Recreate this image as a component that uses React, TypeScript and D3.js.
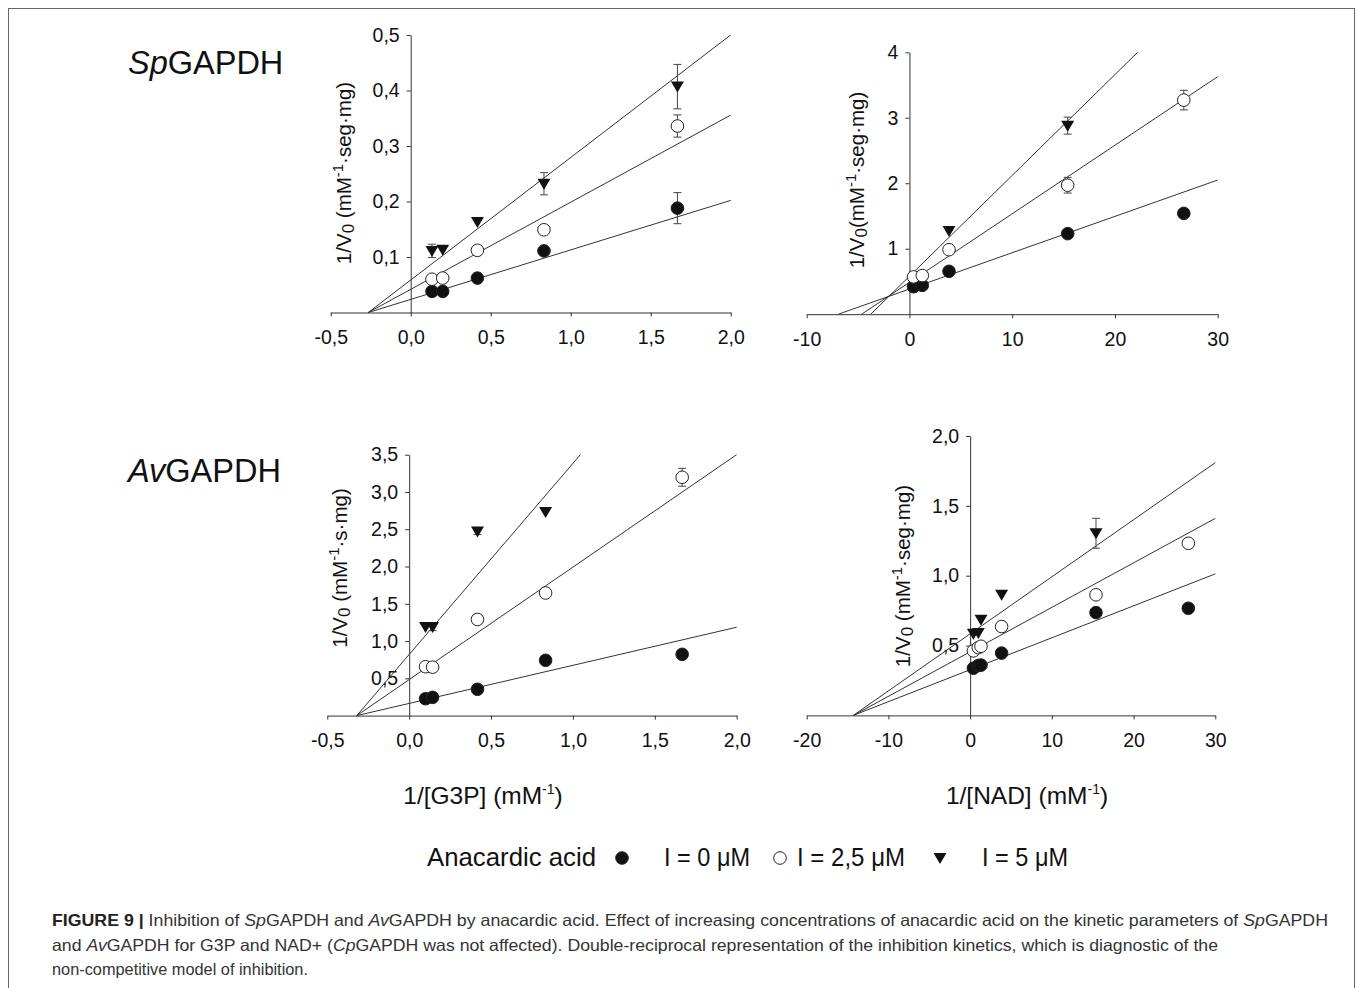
import { useEffect, useRef } from "react";
import * as d3 from "d3";

// ---- data ----
// SpGAPDH, 1/[G3P]
const spG3Px = [0.133, 0.2, 0.417, 0.833, 1.667];
const spG3P_0 = [0.038, 0.038, 0.062, 0.111, 0.188];
const spG3P_0err = [0, 0, 0, 0, 0.028];
const spG3P_25 = [0.06, 0.062, 0.112, 0.149, 0.336];
const spG3P_25err = [0, 0, 0, 0, 0.02];
const spG3P_5 = [0.111, 0.113, 0.163, 0.232, 0.407];
const spG3P_5err = [0.012, 0, 0, 0.02, 0.04];
const spG3PSlopes = [0.0892, 0.157, 0.2208];
const spG3PIntercepts = [0.0236, 0.0417, 0.0585];

// SpGAPDH, 1/[NAD]
const spNADx = [0.4, 1.25, 3.85, 15.4, 26.7];
const spNAD_0 = [0.42, 0.44, 0.655, 1.23, 1.54];
const spNAD_0err = [0, 0, 0, 0, 0];
const spNAD_25 = [0.57, 0.59, 0.985, 1.97, 3.27];
const spNAD_25err = [0, 0, 0, 0.12, 0.15];
const spNAD5x = [3.85, 15.4];
const spNAD_5 = [1.27, 2.88];
const spNAD_5err = [0, 0.13];
const spNADSlopes = [0.0555, 0.1047, 0.154];
const spNADIntercepts = [0.384, 0.487, 0.58];

// AvGAPDH, 1/[G3P]
const avG3Px = [0.1, 0.143, 0.417, 0.833, 1.667];
const avG3P_0 = [0.227, 0.245, 0.353, 0.742, 0.822];
const avG3P_0err = [0, 0, 0, 0, 0];
const avG3P_25 = [0.656, 0.65, 1.29, 1.645, 3.197];
const avG3P_25err = [0, 0, 0, 0, 0.12];
const avG3P5x = [0.1, 0.143, 0.417, 0.833];
const avG3P_5 = [1.19, 1.19, 2.47, 2.73];
const avG3P_5err = [0, 0.05, 0.04, 0];
const avG3PSlopes = [0.511, 1.509, 2.564];
const avG3PIntercepts = [0.1635, 0.483, 0.82];

// AvGAPDH, 1/[NAD]
const avNADx = [0.4, 1.0, 1.33, 3.85, 15.4, 26.7];
const avNAD_0 = [0.338, 0.357, 0.36, 0.446, 0.736, 0.767];
const avNAD_0err = [0, 0, 0, 0, 0, 0];
const avNAD_25 = [0.462, 0.485, 0.495, 0.636, 0.863, 1.232];
const avNAD_25err = [0, 0, 0, 0, 0.03, 0];
const avNAD5x = [0.4, 1.0, 1.33, 3.85, 15.4];
const avNAD_5 = [0.584, 0.59, 0.684, 0.863, 1.304];
const avNAD_5err = [0, 0, 0, 0, 0.107];
const avNADSlopes = [0.02287, 0.03185, 0.04084];
const avNADIntercepts = [0.327, 0.455, 0.584];

const legendLabels = ["I = 0 \u03bcM", "I = 2,5 \u03bcM", "I = 5 \u03bcM"];
const kinds = ["closed", "open", "tri"];

const FONT = "'Liberation Sans', Arial, Helvetica, sans-serif";
const comma1 = (d) => d.toFixed(1).replace(".", ",");
const intFmt = (d) => String(d);

const panels = [
  {
    xDomain: [-0.5, 2.0], xRange: [330.7, 730.7], yDomain: [0, 0.5], yRange: [312.5, 35],
    xTicks: [-0.5, 0, 0.5, 1.0, 1.5, 2.0], yTicks: [0.1, 0.2, 0.3, 0.4, 0.5],
    xFmt: comma1, yFmt: comma1,
    series: [
      { x: spG3Px, y: spG3P_0, err: spG3P_0err },
      { x: spG3Px, y: spG3P_25, err: spG3P_25err },
      { x: spG3Px, y: spG3P_5, err: spG3P_5err },
    ],
    slopes: spG3PSlopes, intercepts: spG3PIntercepts,
    yLabel: { x: 346, y: 173, unit: "\u00b7seg\u00b7mg)", gap: " (" },
  },
  {
    xDomain: [-10, 30], xRange: [806.7, 1217.7], yDomain: [0, 4], yRange: [314.2, 52.3],
    xTicks: [-10, 0, 10, 20, 30], yTicks: [1, 2, 3, 4],
    xFmt: intFmt, yFmt: intFmt,
    series: [
      { x: spNADx, y: spNAD_0, err: spNAD_0err },
      { x: spNADx, y: spNAD_25, err: spNAD_25err },
      { x: spNAD5x, y: spNAD_5, err: spNAD_5err },
    ],
    slopes: spNADSlopes, intercepts: spNADIntercepts,
    yLabel: { x: 859, y: 180, unit: "\u00b7seg\u00b7mg)", gap: "(" },
  },
  {
    xDomain: [-0.5, 2.0], xRange: [327.3, 736.7], yDomain: [0, 3.5], yRange: [715.6, 454.7],
    xTicks: [-0.5, 0, 0.5, 1.0, 1.5, 2.0], yTicks: [0.5, 1, 1.5, 2, 2.5, 3, 3.5],
    xFmt: comma1, yFmt: comma1,
    series: [
      { x: avG3Px, y: avG3P_0, err: avG3P_0err },
      { x: avG3Px, y: avG3P_25, err: avG3P_25err },
      { x: avG3P5x, y: avG3P_5, err: avG3P_5err },
    ],
    slopes: avG3PSlopes, intercepts: avG3PIntercepts,
    yLabel: { x: 342, y: 568, unit: "\u00b7s\u00b7mg)", gap: " (" },
  },
  {
    xDomain: [-20, 30], xRange: [806.7, 1215.3], yDomain: [0, 2.0], yRange: [715.4, 436],
    xTicks: [-20, -10, 0, 10, 20, 30], yTicks: [0.5, 1.0, 1.5, 2.0],
    xFmt: intFmt, yFmt: comma1,
    series: [
      { x: avNADx, y: avNAD_0, err: avNAD_0err },
      { x: avNADx, y: avNAD_25, err: avNAD_25err },
      { x: avNAD5x, y: avNAD_5, err: avNAD_5err },
    ],
    slopes: avNADSlopes, intercepts: avNADIntercepts,
    yLabel: { x: 905, y: 576, unit: "\u00b7seg\u00b7mg)", gap: " (" },
  },
];

const triPath = "M-6.5,-5L6.5,-5L0,6Z";

function drawMarker(sel, kind) {
  if (kind === "tri") {
    sel.append("path").attr("d", triPath).attr("fill", "#111");
  } else {
    sel.append("circle").attr("r", 6.3)
      .attr("fill", kind === "closed" ? "#111" : "#fff")
      .attr("stroke", "#222").attr("stroke-width", 1);
  }
}

export default function App() {
  const ref = useRef(null);

  useEffect(() => {
    const svg = d3.select(ref.current);
    svg.selectAll("*").remove();

    // frame
    svg.append("rect").attr("x", 8.5).attr("y", 8.5).attr("width", 1346).attr("height", 1000)
      .attr("fill", "none").attr("stroke", "#666").attr("stroke-width", 1);

    panels.forEach((p) => {
      const x = d3.scaleLinear().domain(p.xDomain).range(p.xRange);
      const y = d3.scaleLinear().domain(p.yDomain).range(p.yRange);
      const g = svg.append("g");

      const xa = g.append("g").attr("transform", `translate(0,${y(0)})`)
        .call(d3.axisBottom(x).tickValues(p.xTicks).tickFormat(p.xFmt).tickSize(4).tickSizeOuter(0).tickPadding(14));
      const ya = g.append("g").attr("transform", `translate(${x(0)},0)`)
        .call(d3.axisLeft(y).tickValues(p.yTicks).tickFormat(p.yFmt).tickSize(4).tickSizeOuter(0).tickPadding(7));
      [xa, ya].forEach((a) => {
        a.attr("font-family", FONT).attr("font-size", 19.5);
        a.selectAll("path,line").attr("stroke", "#333");
        a.selectAll("text").attr("fill", "#111");
      });

      // regression lines
      p.slopes.forEach((m, i) => {
        const b = p.intercepts[i];
        const x0 = Math.max(-b / m, p.xDomain[0]);
        const x1 = Math.min(p.xDomain[1], (p.yDomain[1] - b) / m);
        g.append("line")
          .attr("x1", x(x0)).attr("y1", y(m * x0 + b))
          .attr("x2", x(x1)).attr("y2", y(m * x1 + b))
          .attr("stroke", "#333").attr("stroke-width", 1);
      });

      // error bars then markers
      p.series.forEach((s, si) => {
        s.x.forEach((xv, i) => {
          const e = s.err[i];
          if (!e) return;
          const cx = x(xv);
          const eg = g.append("g").attr("stroke", "#444").attr("stroke-width", 1);
          eg.append("line").attr("x1", cx).attr("x2", cx).attr("y1", y(s.y[i] - e)).attr("y2", y(s.y[i] + e));
          [s.y[i] - e, s.y[i] + e].forEach((v) => {
            eg.append("line").attr("x1", cx - 4).attr("x2", cx + 4).attr("y1", y(v)).attr("y2", y(v));
          });
        });
        s.x.forEach((xv, i) => {
          const mg = g.append("g").attr("transform", `translate(${x(xv)},${y(s.y[i])})`);
          drawMarker(mg, kinds[si]);
        });
      });

      // y label
      const yl = g.append("text")
        .attr("transform", `translate(${p.yLabel.x},${p.yLabel.y}) rotate(-90)`)
        .attr("text-anchor", "middle").attr("dominant-baseline", "middle")
        .attr("font-family", FONT).attr("font-size", 20.5).attr("fill", "#111");
      yl.append("tspan").text("1/V");
      yl.append("tspan").attr("font-size", 17).attr("dy", 4).text("0");
      yl.append("tspan").attr("dy", -4).text(p.yLabel.gap + "mM");
      yl.append("tspan").attr("font-size", 15).attr("dy", -7).text("-1");
      yl.append("tspan").attr("dy", 7).text(p.yLabel.unit);
    });

    // panel titles
    const titles = [{ it: "Sp", y: 74 }, { it: "Av", y: 482 }];
    titles.forEach((t) => {
      const tx = svg.append("text").attr("x", 128).attr("y", t.y)
        .attr("font-family", FONT).attr("font-size", 32.5).attr("fill", "#111");
      tx.append("tspan").attr("font-style", "italic").text(t.it);
      tx.append("tspan").text("GAPDH");
    });

    // x titles
    [{ cx: 483, t: "1/[G3P] (mM" }, { cx: 1027, t: "1/[NAD] (mM" }].forEach((d) => {
      const tx = svg.append("text").attr("x", d.cx).attr("y", 804).attr("text-anchor", "middle")
        .attr("font-family", FONT).attr("font-size", 24.5).attr("fill", "#111");
      tx.append("tspan").text(d.t);
      tx.append("tspan").attr("font-size", 14).attr("dy", -10).text("-1");
      tx.append("tspan").attr("dy", 10).text(")");
    });

    // legend
    const lg = svg.append("g").attr("font-family", FONT).attr("font-size", 25).attr("fill", "#111");
    lg.append("text").attr("x", 427).attr("y", 866).attr("textLength", 169)
      .attr("lengthAdjust", "spacingAndGlyphs").text("Anacardic acid");
    const legendPos = [
      { mx: 622, tx: 664, w: 86 },
      { mx: 780, tx: 797, w: 108 },
      { mx: 940, tx: 982, w: 86 },
    ];
    legendLabels.forEach((lab, i) => {
      const mg = lg.append("g").attr("transform", `translate(${legendPos[i].mx},858)`);
      drawMarker(mg, kinds[i]);
      lg.append("text").attr("x", legendPos[i].tx).attr("y", 866)
        .attr("textLength", legendPos[i].w).attr("lengthAdjust", "spacingAndGlyphs").text(lab);
    });

    // caption
    const cap = svg.append("g").attr("font-family", FONT).attr("font-size", 16.5).attr("fill", "#333");
    const lines = [
      { y: 926, len: 1276, parts: [["FIGURE 9 | ", "b"], ["Inhibition of ", ""], ["Sp", "i"], ["GAPDH and ", ""], ["Av", "i"], ["GAPDH by anacardic acid. Effect of increasing concentrations of anacardic acid on the kinetic parameters of ", ""], ["Sp", "i"], ["GAPDH", ""]] },
      { y: 951, len: 1166, parts: [["and ", ""], ["Av", "i"], ["GAPDH for G3P and NAD+ (", ""], ["Cp", "i"], ["GAPDH was not affected). Double-reciprocal representation of the inhibition kinetics, which is diagnostic of the", ""]] },
      { y: 975, len: 256, parts: [["non-competitive model of inhibition.", ""]] },
    ];
    lines.forEach((ln) => {
      const t = cap.append("text").attr("x", 52).attr("y", ln.y)
        .attr("textLength", ln.len).attr("lengthAdjust", "spacingAndGlyphs");
      ln.parts.forEach(([s, st]) => {
        const ts = t.append("tspan").text(s);
        if (st === "b") ts.attr("font-weight", "bold").attr("fill", "#222");
        if (st === "i") ts.attr("font-style", "italic");
      });
    });
  }, []);

  return (
    <svg ref={ref} width={1358} height={988}
      style={{ position: "absolute", left: 0, top: 0, background: "#fff" }} />
  );
}
